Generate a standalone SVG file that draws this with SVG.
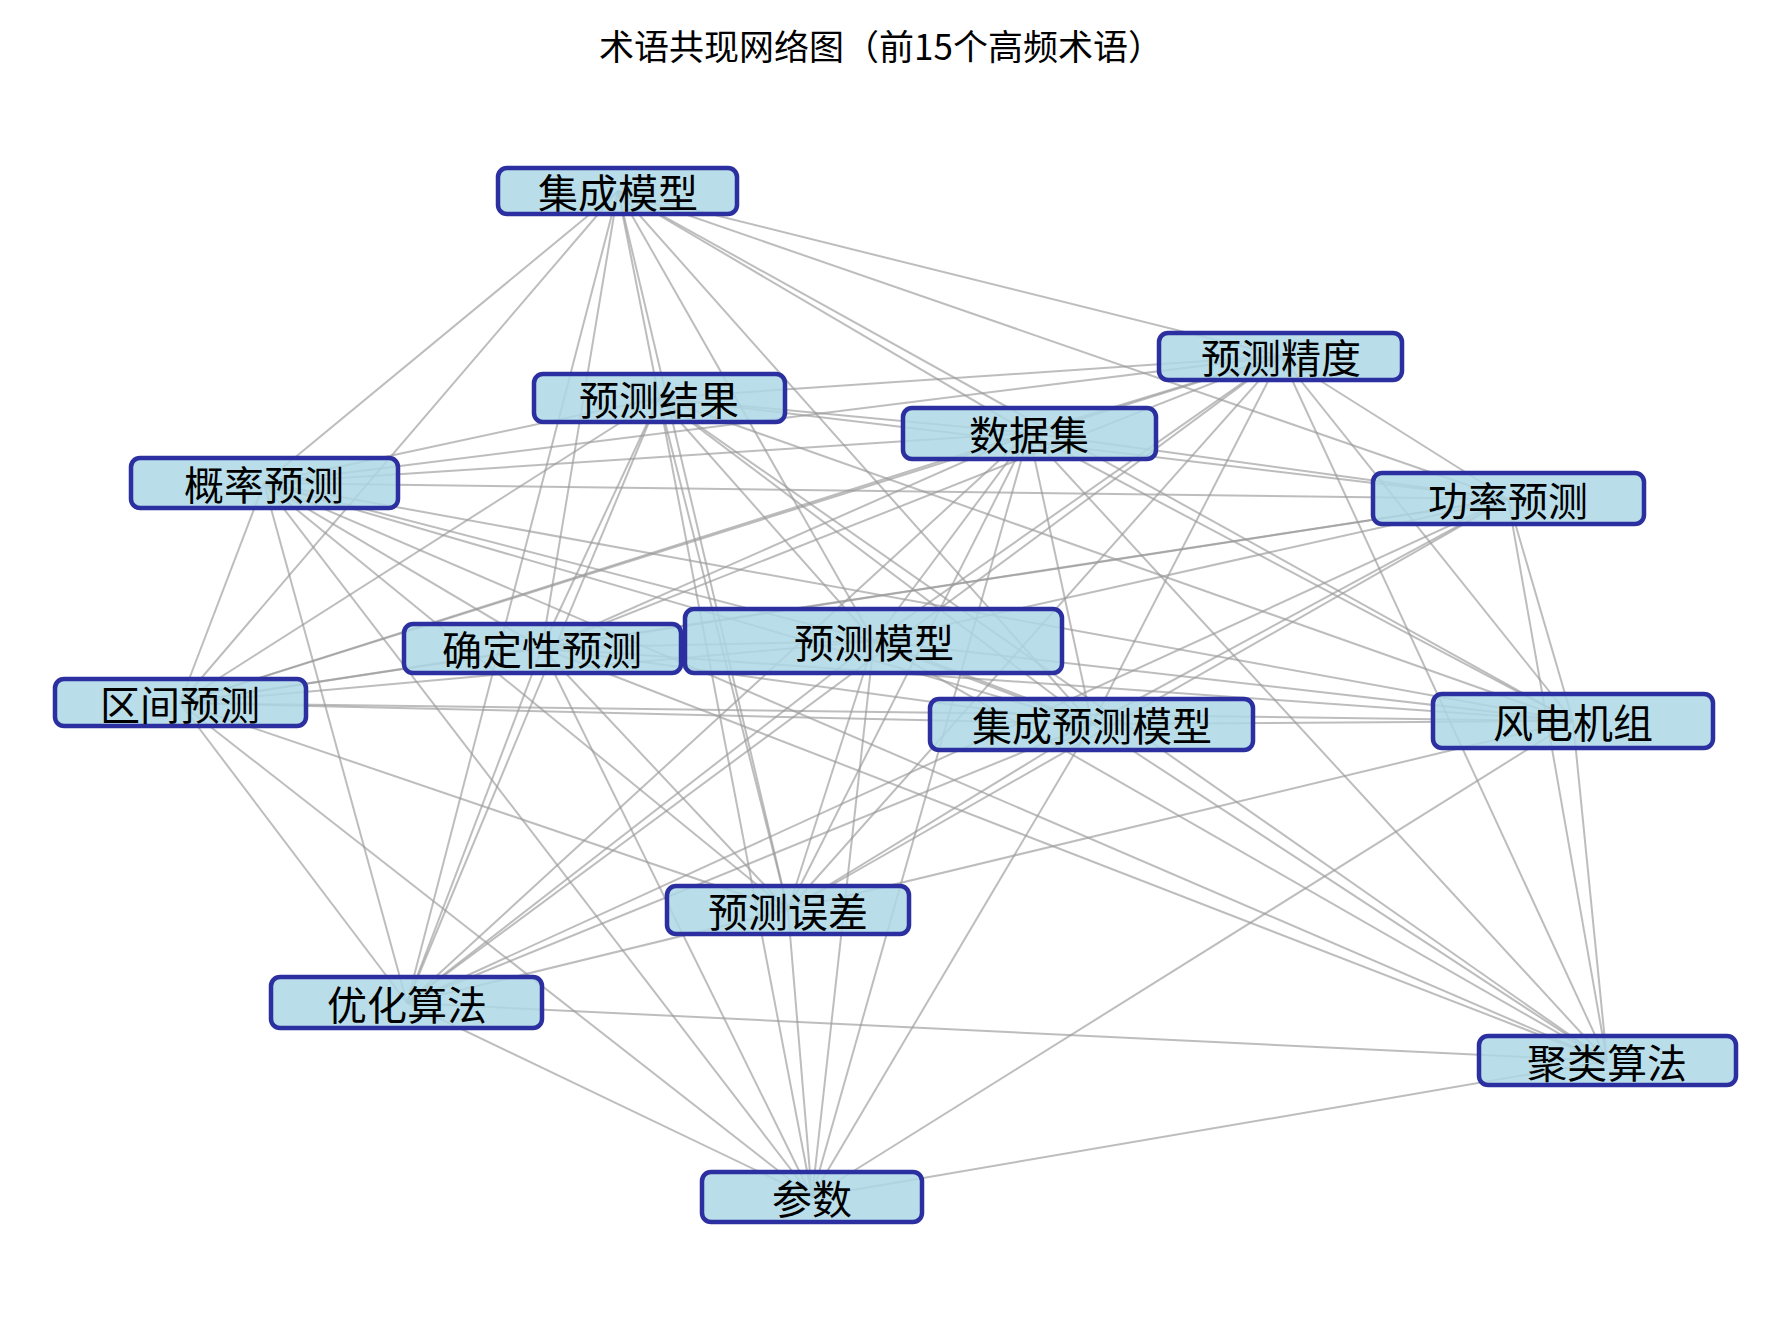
<svg xmlns="http://www.w3.org/2000/svg" width="1779" height="1327" viewBox="0 0 1779 1327">
<style>
.e{stroke:#999;stroke-opacity:.65;stroke-width:2;fill:none}
.n rect{fill:#add8e6;fill-opacity:.85;stroke:#2b2fa0;stroke-width:4.5}
.n text{font-family:"Noto Sans CJK SC","Noto Sans",sans-serif;font-size:40px;fill:#000;text-anchor:middle;dominant-baseline:central}
.t{font-family:"Noto Sans CJK SC","Noto Sans",sans-serif;font-size:35px;fill:#000;text-anchor:middle}
</style>
<rect width="1779" height="1327" fill="#fff"/>
<text class="t" x="881" y="60">术语共现网络图（前15个高频术语）</text>
<g id="edges">
<line class="e" x1="618" y1="191" x2="659" y2="398"/>
<line class="e" x1="618" y1="191" x2="1281" y2="356"/>
<line class="e" x1="618" y1="191" x2="1029" y2="433"/>
<line class="e" x1="618" y1="191" x2="264" y2="483"/>
<line class="e" x1="618" y1="191" x2="1508" y2="499"/>
<line class="e" x1="618" y1="191" x2="542" y2="648"/>
<line class="e" x1="618" y1="191" x2="874" y2="641"/>
<line class="e" x1="618" y1="191" x2="180" y2="703"/>
<line class="e" x1="618" y1="191" x2="1092" y2="724"/>
<line class="e" x1="618" y1="191" x2="1573" y2="721"/>
<line class="e" x1="618" y1="191" x2="788" y2="910"/>
<line class="e" x1="618" y1="191" x2="407" y2="1003"/>
<line class="e" x1="659" y1="398" x2="1281" y2="356"/>
<line class="e" x1="659" y1="398" x2="1029" y2="433"/>
<line class="e" x1="659" y1="398" x2="264" y2="483"/>
<line class="e" x1="659" y1="398" x2="1508" y2="499"/>
<line class="e" x1="659" y1="398" x2="542" y2="648"/>
<line class="e" x1="659" y1="398" x2="874" y2="641"/>
<line class="e" x1="659" y1="398" x2="180" y2="703"/>
<line class="e" x1="659" y1="398" x2="1092" y2="724"/>
<line class="e" x1="659" y1="398" x2="1573" y2="721"/>
<line class="e" x1="659" y1="398" x2="788" y2="910"/>
<line class="e" x1="659" y1="398" x2="407" y2="1003"/>
<line class="e" x1="659" y1="398" x2="1607" y2="1061"/>
<line class="e" x1="659" y1="398" x2="812" y2="1197"/>
<line class="e" x1="1281" y1="356" x2="1029" y2="433"/>
<line class="e" x1="1281" y1="356" x2="264" y2="483"/>
<line class="e" x1="1281" y1="356" x2="1508" y2="499"/>
<line class="e" x1="1281" y1="356" x2="542" y2="648"/>
<line class="e" x1="1281" y1="356" x2="874" y2="641"/>
<line class="e" x1="1281" y1="356" x2="180" y2="703"/>
<line class="e" x1="1281" y1="356" x2="1092" y2="724"/>
<line class="e" x1="1281" y1="356" x2="1573" y2="721"/>
<line class="e" x1="1281" y1="356" x2="788" y2="910"/>
<line class="e" x1="1281" y1="356" x2="407" y2="1003"/>
<line class="e" x1="1281" y1="356" x2="1607" y2="1061"/>
<line class="e" x1="1029" y1="433" x2="264" y2="483"/>
<line class="e" x1="1029" y1="433" x2="1508" y2="499"/>
<line class="e" x1="1029" y1="433" x2="542" y2="648"/>
<line class="e" x1="1029" y1="433" x2="874" y2="641"/>
<line class="e" x1="1029" y1="433" x2="180" y2="703"/>
<line class="e" x1="1029" y1="433" x2="1092" y2="724"/>
<line class="e" x1="1029" y1="433" x2="1573" y2="721"/>
<line class="e" x1="1029" y1="433" x2="788" y2="910"/>
<line class="e" x1="1029" y1="433" x2="407" y2="1003"/>
<line class="e" x1="1029" y1="433" x2="1607" y2="1061"/>
<line class="e" x1="1029" y1="433" x2="812" y2="1197"/>
<line class="e" x1="264" y1="483" x2="1508" y2="499"/>
<line class="e" x1="264" y1="483" x2="542" y2="648"/>
<line class="e" x1="264" y1="483" x2="874" y2="641"/>
<line class="e" x1="264" y1="483" x2="180" y2="703"/>
<line class="e" x1="264" y1="483" x2="1092" y2="724"/>
<line class="e" x1="264" y1="483" x2="1573" y2="721"/>
<line class="e" x1="264" y1="483" x2="788" y2="910"/>
<line class="e" x1="264" y1="483" x2="407" y2="1003"/>
<line class="e" x1="264" y1="483" x2="1607" y2="1061"/>
<line class="e" x1="264" y1="483" x2="812" y2="1197"/>
<line class="e" x1="1508" y1="499" x2="542" y2="648"/>
<line class="e" x1="1508" y1="499" x2="874" y2="641"/>
<line class="e" x1="1508" y1="499" x2="180" y2="703"/>
<line class="e" x1="1508" y1="499" x2="1092" y2="724"/>
<line class="e" x1="1508" y1="499" x2="1573" y2="721"/>
<line class="e" x1="1508" y1="499" x2="788" y2="910"/>
<line class="e" x1="1508" y1="499" x2="407" y2="1003"/>
<line class="e" x1="1508" y1="499" x2="1607" y2="1061"/>
<line class="e" x1="542" y1="648" x2="874" y2="641"/>
<line class="e" x1="542" y1="648" x2="180" y2="703"/>
<line class="e" x1="542" y1="648" x2="1092" y2="724"/>
<line class="e" x1="542" y1="648" x2="1573" y2="721"/>
<line class="e" x1="542" y1="648" x2="788" y2="910"/>
<line class="e" x1="542" y1="648" x2="407" y2="1003"/>
<line class="e" x1="542" y1="648" x2="1607" y2="1061"/>
<line class="e" x1="542" y1="648" x2="812" y2="1197"/>
<line class="e" x1="874" y1="641" x2="180" y2="703"/>
<line class="e" x1="874" y1="641" x2="1092" y2="724" style="stroke-width:4"/>
<line class="e" x1="874" y1="641" x2="1573" y2="721"/>
<line class="e" x1="874" y1="641" x2="788" y2="910"/>
<line class="e" x1="874" y1="641" x2="407" y2="1003"/>
<line class="e" x1="874" y1="641" x2="1607" y2="1061"/>
<line class="e" x1="874" y1="641" x2="812" y2="1197"/>
<line class="e" x1="180" y1="703" x2="1092" y2="724"/>
<line class="e" x1="180" y1="703" x2="1573" y2="721"/>
<line class="e" x1="180" y1="703" x2="788" y2="910"/>
<line class="e" x1="180" y1="703" x2="407" y2="1003"/>
<line class="e" x1="180" y1="703" x2="812" y2="1197"/>
<line class="e" x1="1092" y1="724" x2="1573" y2="721"/>
<line class="e" x1="1092" y1="724" x2="788" y2="910"/>
<line class="e" x1="1092" y1="724" x2="407" y2="1003"/>
<line class="e" x1="1092" y1="724" x2="1607" y2="1061"/>
<line class="e" x1="1092" y1="724" x2="812" y2="1197"/>
<line class="e" x1="1573" y1="721" x2="788" y2="910"/>
<line class="e" x1="1573" y1="721" x2="1607" y2="1061"/>
<line class="e" x1="1573" y1="721" x2="812" y2="1197"/>
<line class="e" x1="788" y1="910" x2="407" y2="1003"/>
<line class="e" x1="788" y1="910" x2="812" y2="1197"/>
<line class="e" x1="407" y1="1003" x2="1607" y2="1061"/>
<line class="e" x1="407" y1="1003" x2="812" y2="1197"/>
<line class="e" x1="1607" y1="1061" x2="812" y2="1197"/>
</g>
<g id="n-jcmx" class="n"><rect x="498" y="168" width="239" height="46" rx="9"/><text x="618" y="191">集成模型</text></g>
<g id="n-ycjg" class="n"><rect x="534" y="374" width="251" height="48" rx="9"/><text x="659" y="398">预测结果</text></g>
<g id="n-ycjd" class="n"><rect x="1159" y="333" width="243" height="47" rx="9"/><text x="1281" y="356">预测精度</text></g>
<g id="n-sjj" class="n"><rect x="903" y="408" width="253" height="51" rx="9"/><text x="1029" y="433">数据集</text></g>
<g id="n-glyc" class="n"><rect x="131" y="458" width="267" height="50" rx="9"/><text x="264" y="483">概率预测</text></g>
<g id="n-glyc2" class="n"><rect x="1373" y="473" width="271" height="51" rx="9"/><text x="1508" y="499">功率预测</text></g>
<g id="n-qdx" class="n"><rect x="404" y="624" width="277" height="49" rx="9"/><text x="542" y="648">确定性预测</text></g>
<g id="n-ycmx" class="n"><rect x="685" y="609" width="377" height="64" rx="9"/><text x="874" y="641">预测模型</text></g>
<g id="n-qjyc" class="n"><rect x="55" y="679" width="251" height="47" rx="9"/><text x="180" y="703">区间预测</text></g>
<g id="n-jcycmx" class="n"><rect x="930" y="699" width="323" height="51" rx="9"/><text x="1092" y="724">集成预测模型</text></g>
<g id="n-fdjz" class="n"><rect x="1433" y="694" width="280" height="54" rx="9"/><text x="1573" y="721">风电机组</text></g>
<g id="n-ycwc" class="n"><rect x="667" y="886" width="242" height="48" rx="9"/><text x="788" y="910">预测误差</text></g>
<g id="n-yhsf" class="n"><rect x="271" y="977" width="271" height="51" rx="9"/><text x="407" y="1003">优化算法</text></g>
<g id="n-jlsf" class="n"><rect x="1479" y="1036" width="257" height="49" rx="9"/><text x="1607" y="1061">聚类算法</text></g>
<g id="n-cs" class="n"><rect x="702" y="1172" width="220" height="50" rx="9"/><text x="812" y="1197">参数</text></g>
</svg>
